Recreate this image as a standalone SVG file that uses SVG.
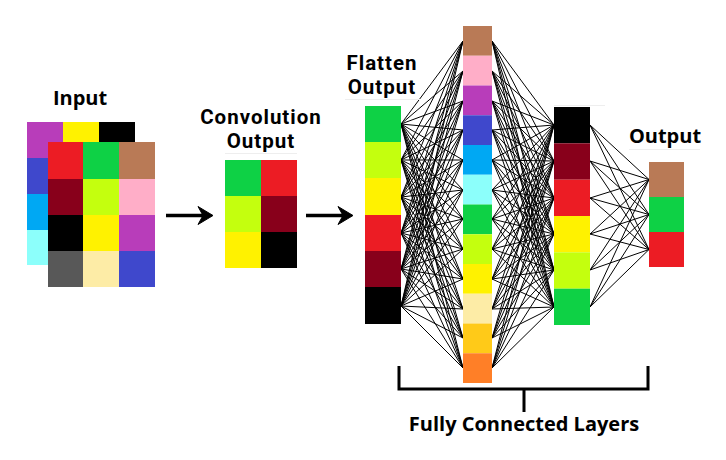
<svg xmlns="http://www.w3.org/2000/svg" width="726" height="460" viewBox="0 0 726 460">
<style>
text{font-family:"Open Sans",Roboto,sans-serif;font-weight:bold;font-size:20px;fill:#000;text-anchor:middle}
text.st{font-family:Roboto,"Open Sans",sans-serif;font-size:20.5px;letter-spacing:1px}
.c path{fill:none;stroke:#000;stroke-width:1}
.c path.shaft{stroke-width:3.5}
.c path.head{fill:#000;stroke:#000;stroke-width:1;stroke-linejoin:miter}
.br{fill:none;stroke:#000;stroke-width:3}
.sep{stroke:#eeeeee;stroke-width:1}
</style>
<rect width="726" height="460" fill="#fff"/>
<g class="c" id="connectors">
<path d="M401 124L463 41M401 124L463 71M401 124L463 101M401 124L463 130M401 124L463 160M401 124L463 190M401 124L463 219M401 124L463 249M401 124L463 279M401 124L463 309M401 124L463 338M401 124L463 368"/>
<path d="M401 160L463 41M401 160L463 71M401 160L463 101M401 160L463 130M401 160L463 160M401 160L463 190M401 160L463 219M401 160L463 249M401 160L463 279M401 160L463 309M401 160L463 338M401 160L463 368"/>
<path d="M401 197L463 41M401 197L463 71M401 197L463 101M401 197L463 130M401 197L463 160M401 197L463 190M401 197L463 219M401 197L463 249M401 197L463 279M401 197L463 309M401 197L463 338M401 197L463 368"/>
<path d="M401 233L463 41M401 233L463 71M401 233L463 101M401 233L463 130M401 233L463 160M401 233L463 190M401 233L463 219M401 233L463 249M401 233L463 279M401 233L463 309M401 233L463 338M401 233L463 368"/>
<path d="M401 269L463 41M401 269L463 71M401 269L463 101M401 269L463 130M401 269L463 160M401 269L463 190M401 269L463 219M401 269L463 249M401 269L463 279M401 269L463 309M401 269L463 338M401 269L463 368"/>
<path d="M401 306L463 41M401 306L463 71M401 306L463 101M401 306L463 130M401 306L463 160M401 306L463 190M401 306L463 219M401 306L463 249M401 306L463 279M401 306L463 309M401 306L463 338M401 306L463 368"/>
<path d="M492 41L554 125M492 41L554 161M492 41L554 198M492 41L554 234M492 41L554 270M492 41L554 307"/>
<path d="M492 71L554 125M492 71L554 161M492 71L554 198M492 71L554 234M492 71L554 270M492 71L554 307"/>
<path d="M492 101L554 125M492 101L554 161M492 101L554 198M492 101L554 234M492 101L554 270M492 101L554 307"/>
<path d="M492 130L554 125M492 130L554 161M492 130L554 198M492 130L554 234M492 130L554 270M492 130L554 307"/>
<path d="M492 160L554 125M492 160L554 161M492 160L554 198M492 160L554 234M492 160L554 270M492 160L554 307"/>
<path d="M492 190L554 125M492 190L554 161M492 190L554 198M492 190L554 234M492 190L554 270M492 190L554 307"/>
<path d="M492 219L554 125M492 219L554 161M492 219L554 198M492 219L554 234M492 219L554 270M492 219L554 307"/>
<path d="M492 249L554 125M492 249L554 161M492 249L554 198M492 249L554 234M492 249L554 270M492 249L554 307"/>
<path d="M492 279L554 125M492 279L554 161M492 279L554 198M492 279L554 234M492 279L554 270M492 279L554 307"/>
<path d="M492 309L554 125M492 309L554 161M492 309L554 198M492 309L554 234M492 309L554 270M492 309L554 307"/>
<path d="M492 338L554 125M492 338L554 161M492 338L554 198M492 338L554 234M492 338L554 270M492 338L554 307"/>
<path d="M492 368L554 125M492 368L554 161M492 368L554 198M492 368L554 234M492 368L554 270M492 368L554 307"/>
<path d="M590 125L649 179.5M590 125L649 214.5M590 125L649 249.5"/>
<path d="M590 161L649 179.5M590 161L649 214.5M590 161L649 249.5"/>
<path d="M590 198L649 179.5M590 198L649 214.5M590 198L649 249.5"/>
<path d="M590 234L649 179.5M590 234L649 214.5M590 234L649 249.5"/>
<path d="M590 270L649 179.5M590 270L649 214.5M590 270L649 249.5"/>
<path d="M590 307L649 179.5M590 307L649 214.5M590 307L649 249.5"/>
<path class="shaft" d="M166 215.5H205"/>
<path class="head" d="M213 215.5L198 206.5L203 215.5L198 224.5Z"/>
<path class="shaft" d="M306 215.5H345"/>
<path class="head" d="M353 215.5L338 206.5L343 215.5L338 224.5Z"/>
</g>
<g id="input">
<text x="80" y="105">Input</text>
<rect x="27" y="122" width="36" height="36" fill="#B83DBA"/>
<rect x="63" y="122" width="36" height="36" fill="#FFF200"/>
<rect x="99" y="122" width="36" height="36" fill="#000"/>
<rect x="27" y="158" width="36" height="36" fill="#3F48CC"/>
<rect x="27" y="194" width="36" height="36" fill="#00A8F3"/>
<rect x="27" y="230" width="36" height="35" fill="#8CFFFB"/>
<rect x="48" y="142" width="35" height="37" fill="#EC1C24"/>
<rect x="83" y="142" width="36" height="37" fill="#0ED145"/>
<rect x="119" y="142" width="36" height="37" fill="#B97A56"/>
<rect x="48" y="179" width="35" height="36" fill="#88001B"/>
<rect x="83" y="179" width="36" height="36" fill="#C4FF0E"/>
<rect x="119" y="179" width="36" height="36" fill="#FFAEC8"/>
<rect x="48" y="215" width="35" height="36" fill="#000"/>
<rect x="83" y="215" width="36" height="36" fill="#FFF200"/>
<rect x="119" y="215" width="36" height="36" fill="#B83DBA"/>
<rect x="48" y="251" width="35" height="36" fill="#585858"/>
<rect x="83" y="251" width="36" height="36" fill="#FDECA6"/>
<rect x="119" y="251" width="36" height="36" fill="#3F48CC"/>
</g>
<g id="conv">
<text class="st" x="261" y="124">Convolution</text>
<text class="st" x="261" y="148">Output</text>
<line class="sep" x1="225" y1="153.5" x2="297" y2="153.5"/>
<rect x="225" y="160" width="36" height="36" fill="#0ED145"/>
<rect x="261" y="160" width="36" height="36" fill="#EC1C24"/>
<rect x="225" y="196" width="36" height="36" fill="#C4FF0E"/>
<rect x="261" y="196" width="36" height="36" fill="#88001B"/>
<rect x="225" y="232" width="36" height="36" fill="#FFF200"/>
<rect x="261" y="232" width="36" height="36" fill="#000"/>
</g>
<g id="flatten">
<text class="st" x="382" y="70">Flatten</text>
<text class="st" x="382" y="94">Output</text>
<line class="sep" x1="345" y1="99.5" x2="420" y2="99.5"/>
<rect x="365" y="106" width="36" height="36" fill="#0ED145"/>
<rect x="365" y="142" width="36" height="36" fill="#C4FF0E"/>
<rect x="365" y="178" width="36" height="37" fill="#FFF200"/>
<rect x="365" y="215" width="36" height="36" fill="#EC1C24"/>
<rect x="365" y="251" width="36" height="36" fill="#88001B"/>
<rect x="365" y="287" width="36" height="37" fill="#000"/>
</g>
<g id="hidden1">
<rect x="463" y="26" width="29" height="29.75" fill="#B97A56"/>
<rect x="463" y="55.75" width="29" height="29.75" fill="#FFAEC8"/>
<rect x="463" y="85.5" width="29" height="29.75" fill="#B83DBA"/>
<rect x="463" y="115.25" width="29" height="29.75" fill="#3F48CC"/>
<rect x="463" y="145" width="29" height="29.75" fill="#00A8F3"/>
<rect x="463" y="174.75" width="29" height="29.75" fill="#8CFFFB"/>
<rect x="463" y="204.5" width="29" height="29.75" fill="#0ED145"/>
<rect x="463" y="234.25" width="29" height="29.75" fill="#C4FF0E"/>
<rect x="463" y="264" width="29" height="29.75" fill="#FFF200"/>
<rect x="463" y="293.75" width="29" height="29.75" fill="#FDECA6"/>
<rect x="463" y="323.5" width="29" height="29.75" fill="#FFCA18"/>
<rect x="463" y="353.25" width="29" height="29.75" fill="#FF7F27"/>
</g>
<g id="hidden2">
<line class="sep" x1="554" y1="105.5" x2="605" y2="105.5"/>
<rect x="554" y="107" width="36" height="36.3" fill="#000"/>
<rect x="554" y="143.3" width="36" height="36.4" fill="#88001B"/>
<rect x="554" y="179.7" width="36" height="36.3" fill="#EC1C24"/>
<rect x="554" y="216" width="36" height="36.3" fill="#FFF200"/>
<rect x="554" y="252.3" width="36" height="36.4" fill="#C4FF0E"/>
<rect x="554" y="288.7" width="36" height="36.3" fill="#0ED145"/>
</g>
<g id="output">
<text x="665" y="143">Output</text>
<line class="sep" x1="629" y1="149.5" x2="700" y2="149.5"/>
<rect x="649" y="162" width="35" height="35" fill="#B97A56"/>
<rect x="649" y="197" width="35" height="35" fill="#0ED145"/>
<rect x="649" y="232" width="35" height="35" fill="#EC1C24"/>
</g>
<g id="bracket">
<path class="br" d="M399 366V389H648V366M524 389V412"/>
<text x="524" y="431">Fully Connected Layers</text>
</g>
</svg>
